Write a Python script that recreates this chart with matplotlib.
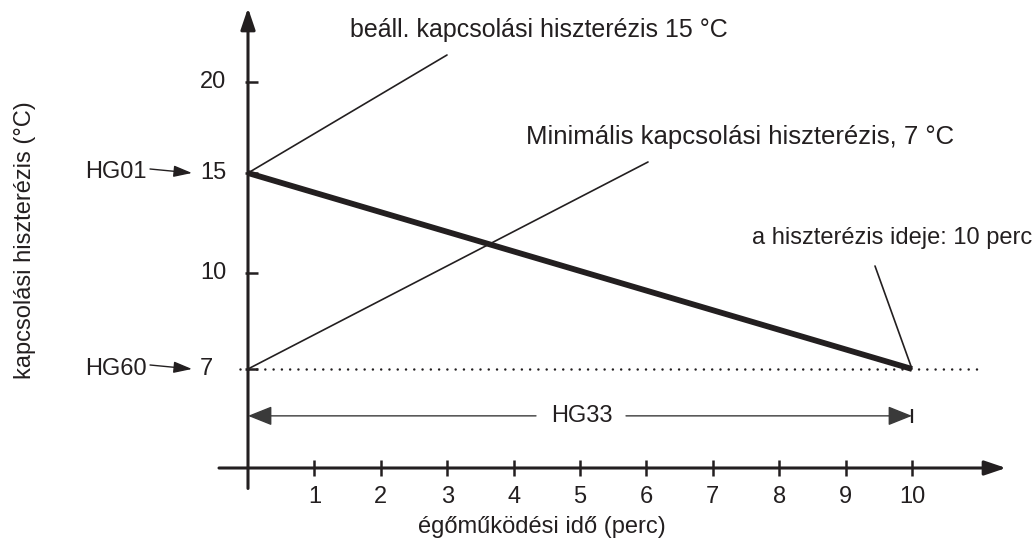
import numpy as np
import matplotlib
matplotlib.use("Agg")
import matplotlib.pyplot as plt

plt.rcParams['font.family'] = ['Liberation Sans', 'DejaVu Sans']

# --- values -----------------------------------------------------------
minutes = list(range(1, 11))                 # x tick labels (perc)
y_tick_values = [7, 10, 15, 20]              # hysteresis ticks (°C)
burner_time = [0, 10]                        # égőműködési idő (perc)
hysteresis = [15, 7]                         # switching hysteresis (°C)
hg01_value = 15
hg60_value = 7
hg33_minutes = 10

INK = '#231f20'
FS = 17
W, H = 1032, 546
fig = plt.figure(figsize=(W / 100, H / 100), dpi=100)
ax = fig.add_axes([0, 0, 1, 1])

# schematic (non-uniform) vertical scale
data_knots = np.array([-20, 4, 7, 10, 15, 20, 24.5, 60])
pix_knots = np.array([468 + 24 * 33, 468, 369, 273, 173, 82, 8, 8 - 35.5 * 16.4])


def fwd(y):
    return -np.interp(y, data_knots, pix_knots)


def inv(p):
    return np.interp(-p, pix_knots[::-1], data_knots[::-1])


ax.set_yscale('function', functions=(fwd, inv))
x0_px, unit_px = 248.0, 66.4
ax.set_xlim(-x0_px / unit_px, (W - x0_px) / unit_px)
ax.set_ylim(float(inv(-H)), float(inv(0)))
ax.axis('off')

y_base = 4.0        # level of the time axis

def px_x(p):
    return (p - x0_px) / unit_px

# axes with arrow heads
ax.annotate('', xy=(0, 24.5), xytext=(0, 3.38),
            arrowprops=dict(arrowstyle='-|>,head_length=0.65,head_width=0.22',
                            mutation_scale=20, lw=2.2, color=INK,
                            shrinkA=0, shrinkB=0))
ax.annotate('', xy=(px_x(1006), y_base), xytext=(px_x(219), y_base),
            arrowprops=dict(arrowstyle='-|>,head_length=0.65,head_width=0.22',
                            mutation_scale=20, lw=2.2, color=INK,
                            shrinkA=0, shrinkB=0))

# ticks and tick labels
for m in minutes:
    ax.plot([m, m], [4.24, 3.76], color=INK, lw=1.8, solid_capstyle='butt')
    ax.text(m, 3.12, str(m), ha='center', va='center', fontsize=FS, color=INK)
for v in y_tick_values:
    ax.plot([px_x(245), px_x(258)], [v, v], color=INK, lw=1.8,
            solid_capstyle='butt')
    ax.text(px_x(200), v, str(v), ha='left', va='center', fontsize=FS, color=INK)

# dotted minimum level
ax.plot([px_x(240), px_x(980)], [hg60_value, hg60_value], color=INK, lw=1.8,
        linestyle=(0, (0.01, 3.3)), dash_capstyle='round')

# hysteresis decreasing over burner run time
ax.plot(burner_time, hysteresis, color=INK, lw=4.2, solid_capstyle='butt')

# leader lines to the callouts
lead = dict(arrowstyle='-', lw=1.2, color=INK, shrinkA=0, shrinkB=0)
ax.annotate('', xy=(0, hg01_value), xytext=(447, H - 55),
            textcoords='figure pixels', arrowprops=lead)
ax.annotate('', xy=(0, hg60_value), xytext=(648, H - 162),
            textcoords='figure pixels', arrowprops=lead)
ax.annotate('', xy=(hg33_minutes, hg60_value), xytext=(875, H - 266),
            textcoords='figure pixels', arrowprops=lead)

def ftext(x, y, s, fs=FS, **kw):
    fig.text(x / W, 1 - y / H, s, fontsize=fs, color=INK, **kw)

ftext(350, 30, 'beáll. kapcsolási hiszterézis 15 °C', fs=18, ha='left', va='center')
ftext(526, 137, 'Minimális kapcsolási hiszterézis, 7 °C', fs=18.5,
      ha='left', va='center')
ftext(752, 238, 'a hiszterézis ideje: 10 perc', ha='left', va='center')

# parameter markers HG01 / HG60
ftext(85, 172, 'HG01', ha='left', va='center')
ftext(85, 369, 'HG60', ha='left', va='center')
small = dict(arrowstyle='-|>,head_length=0.8,head_width=0.25', mutation_scale=14,
             lw=1.0, color=INK, shrinkA=0, shrinkB=0)
fig.add_artist(matplotlib.patches.FancyArrowPatch(
    (150, H - 169), (192, H - 173), transform=None, **small))
fig.add_artist(matplotlib.patches.FancyArrowPatch(
    (150, H - 365), (192, H - 369), transform=None, **small))

# HG33 duration arrow
y33 = 5.58
dim = dict(arrowstyle='-|>,head_length=0.75,head_width=0.3', mutation_scale=20,
           lw=1.0, color='#3a3a3a', shrinkA=0, shrinkB=0)
ax.annotate('', xy=(0, y33), xytext=(px_x(536), y33), arrowprops=dim)
ax.annotate('', xy=(hg33_minutes, y33), xytext=(px_x(626), y33), arrowprops=dim)
ax.plot([hg33_minutes, hg33_minutes], [5.8, 5.37], color=INK, lw=1.6,
        solid_capstyle='butt')
ax.text(px_x(582), y33, 'HG33', ha='center', va='center', fontsize=FS, color=INK)

# axis titles
ftext(542, 527, 'égőműködési idő (perc)', ha='center', va='center')
ftext(25, 240, 'kapcsolási hiszterézis (°C)', ha='center', va='center',
      rotation=90)

fig.savefig('out.png', dpi=100)
